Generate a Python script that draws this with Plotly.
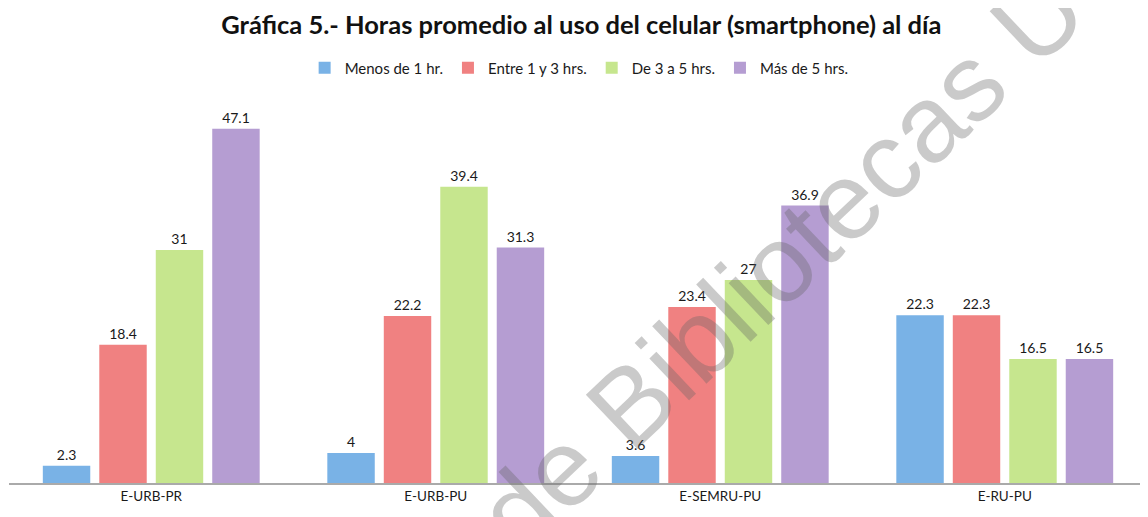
import plotly.graph_objects as go

categories = ["E-URB-PR", "E-URB-PU", "E-SEMRU-PU", "E-RU-PU"]
series_names = ["Menos de 1 hr.", "Entre 1 y 3 hrs.", "De 3 a 5 hrs.", "Más de 5 hrs."]
menos_1 = [2.3, 4, 3.6, 22.3]
entre_1_3 = [18.4, 22.2, 23.4, 22.3]
de_3_5 = [31, 39.4, 27, 16.5]
mas_5 = [47.1, 31.3, 36.9, 16.5]
series_values = [menos_1, entre_1_3, de_3_5, mas_5]
colors = ["#79B2E6", "#F08181", "#C6E68E", "#B59DD2"]

FONT = "Lato"

fig = go.Figure()
for name, vals, col in zip(series_names, series_values, colors):
    fig.add_trace(go.Bar(
        x=categories, y=vals, name=name,
        marker=dict(color=col, line=dict(width=0)),
        text=[str(v) for v in vals], textposition="outside",
        textfont=dict(family=FONT, size=14, color="#1a1a1a"),
        cliponaxis=False,
    ))

fig.update_layout(
    width=1140, height=509,
    margin=dict(l=1, r=1, t=99, b=34),
    paper_bgcolor="white", plot_bgcolor="white",
    barmode="group", bargap=0.206, bargroupgap=0.16,
    title=dict(text="<b>Gráfica 5.- Horas promedio al uso del celular (smartphone) al día</b>",
               x=0.503, xanchor="center", y=0.9666, yanchor="middle",
               font=dict(family=FONT, size=25.5, color="#111111")),
    legend=dict(orientation="h", x=0.501, xanchor="center", y=1.104, yanchor="middle",
                font=dict(family=FONT, size=15, color="#1a1a1a"),
                itemwidth=30, traceorder="normal"),
    xaxis=dict(showline=True, linecolor="#AAAAAA", linewidth=1.5, ticks="",
               tickfont=dict(family=FONT, size=13.5, color="#1a1a1a"), showgrid=False),
    yaxis=dict(range=[0, 50], visible=False, showgrid=False),
    annotations=[dict(
        text="de Bibliotecas U", xref="paper", yref="paper", x=0.678, y=0.590,
        xanchor="center", yanchor="middle",
        showarrow=False, textangle=-43.5,
        font=dict(family="Liberation Sans", size=109, color="rgba(100,100,100,0.34)"),
    )],
)

fig.write_html("out.html")
